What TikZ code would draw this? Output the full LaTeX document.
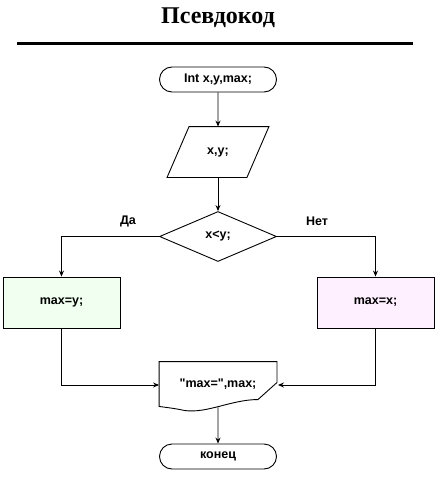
\documentclass[tikz,border=0pt]{standalone}
\usepackage{fontspec}
\setmainfont{Liberation Serif}
\newfontfamily\blockfont{Liberation Sans}
\usetikzlibrary{shapes.geometric,shapes.misc,arrows.meta,calc}

\begin{document}
\begin{tikzpicture}[x=1pt,y=-1pt,line width=0.9pt,
  font=\blockfont\bfseries\fontsize{12.5}{14}\selectfont,
  term/.style={draw, rounded rectangle, minimum width=117pt, minimum height=25pt, inner sep=0pt},
  inbox/.style={minimum width=101pt, minimum height=50pt, inner sep=0pt},
  cond/.style={draw, diamond, minimum width=117pt, minimum height=50pt, inner sep=0pt},
  act/.style={draw, rectangle, minimum width=117pt, minimum height=51pt, inner sep=0pt},
  arr/.style={-{Stealth[length=6pt,width=5pt]}}]

% --- colors ---
\definecolor{cYes}{HTML}{F0FFF0}
\definecolor{cNo} {HTML}{FFF0FF}

\useasboundingbox (0,0) rectangle (436,500);

% --- header ---
\node[font=\rmfamily\bfseries\fontsize{24}{28}\selectfont] (title) at (218,18) {Псевдокод};
\draw[line width=3pt] (17,44) -- (413,44);

% --- blocks ---
\node[term] (start) at (218,79.5) {Int x,y,max;};
\node[inbox] (read) at (218,152) {x,y;};
\draw ($(read.north west)+(22,0)$) -- (read.north east)
  -- ($(read.south east)+(-22,0)$) -- (read.south west) -- cycle;
\node[cond] (cmp) at (218,236.5) {x<y;};
\node[act, fill=cYes] (yes) at (61.5,302.5) {max=y;};
\node[act, fill=cNo] (no) at (375.5,302.5) {max=x;};
\node[minimum width=117pt, minimum height=44pt, inner sep=0pt] (out) at (218,384) {"max=",max;};
\draw (out.north west) -- (out.north east) -- ($(out.north east)+(0,21)$)
  -- ($(out.north east)+(-19,38)$)
  .. controls ($(out.north east)+(-45,38)$) and ($(out.north east)+(-70,52)$) .. ($(out.north east)+(-92,49)$)
  .. controls ($(out.north east)+(-102,47)$) .. (out.south west) -- cycle;
\node[term] (stop) at (218,456.5) {конец};

% --- branch labels ---
\node (lyes) at (128,221) {Да};
\node (lno) at (317,221) {Нет};

% --- connectors ---
\draw[arr] (start) -- (read);
\draw[arr] (read) -- (cmp);
\draw[arr] (cmp.west) -| (yes.north);
\draw[arr] (cmp.east) -| (no.north);
\draw[arr] (yes.south) |- ($(out.west)+(0,1)$);
\draw[arr] (no.south) |- ($(out.east)+(1,1)$);
\draw[arr] ($(out.south)+(0,1)$) -- (stop);

\end{tikzpicture}
\end{document}
